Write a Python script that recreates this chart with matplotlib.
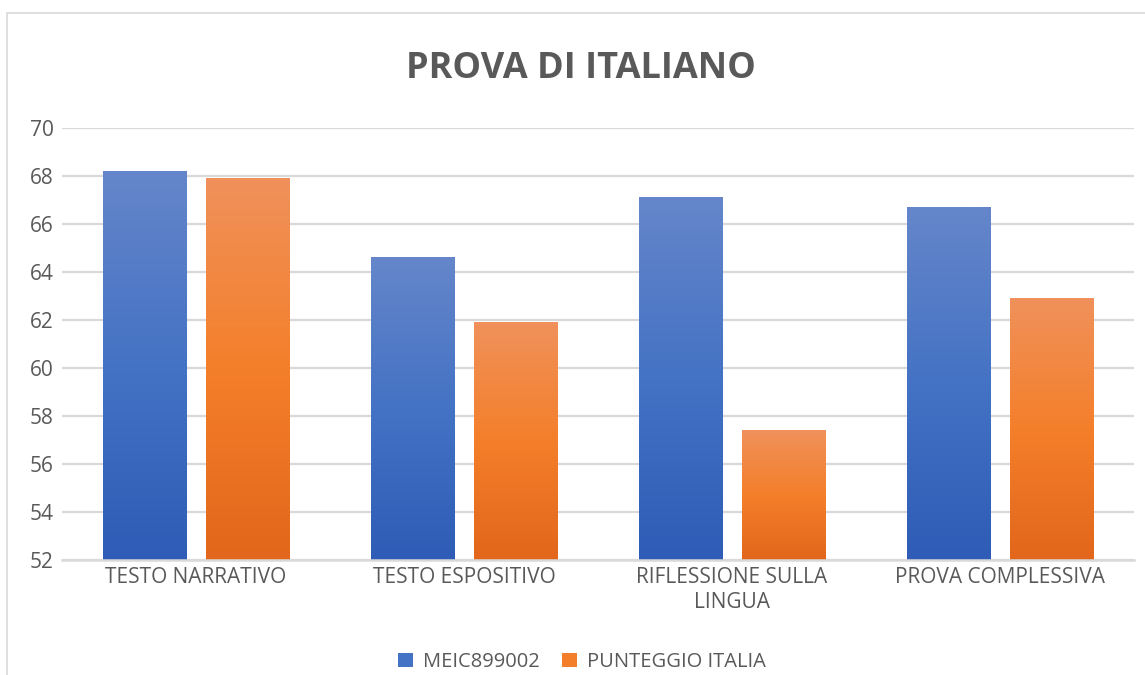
"""
Bar chart: PROVA DI ITALIANO (MEIC899002 vs national score).
Saves out.png.
"""

import numpy as np
import matplotlib
matplotlib.use("Agg")
import matplotlib.pyplot as plt
from matplotlib.colors import LinearSegmentedColormap
from matplotlib.patches import Patch, Rectangle

categories = ["TESTO NARRATIVO", "TESTO ESPOSITIVO", "RIFLESSIONE SULLA\nLINGUA", "PROVA COMPLESSIVA"]
school_values = [68.2, 64.6, 67.1, 66.7]
italy_values = [67.9, 61.9, 57.4, 62.9]
series_names = ["MEIC899002", "PUNTEGGIO ITALIA"]
y_ticks = [52, 54, 56, 58, 60, 62, 64, 66, 68, 70]

TEXT = "#595959"
GRID = "#d9d9d9"
# top -> middle -> bottom of each bar
BLUE_STOPS = ["#6586ca", "#4472c4", "#2e5cb6"]
ORANGE_STOPS = ["#f0915b", "#f47f2a", "#e2661b"]

plt.rcParams["font.family"] = ["Open Sans", "DejaVu Sans"]

W, H = 1145, 675
fig = plt.figure(figsize=(W / 100, H / 100), dpi=100)

# light frame of the chart area (cut off on the right and bottom)
fig.patches.append(Rectangle((7 / W, -0.02), 1.05, 1 - 13 / H + 0.02,
                             transform=fig.transFigure, fill=False,
                             edgecolor=GRID, linewidth=1.2))

ax = fig.add_axes([62 / W, 1 - 560 / H, (1134 - 62) / W, (560 - 128) / H])

x = np.arange(len(categories))
bar_w = 0.31
offset = (bar_w + 0.075) / 2
ymin, ymax = y_ticks[0], y_ticks[-1]


def gradient_bars(xpos, values, stops):
    cmap = LinearSegmentedColormap.from_list("g", stops[::-1])
    grad = np.linspace(0, 1, 256).reshape(-1, 1)
    for xc, v in zip(xpos, values):
        ax.imshow(grad, cmap=cmap, origin="lower", aspect="auto",
                  extent=[xc - bar_w / 2, xc + bar_w / 2, ymin, v],
                  zorder=3, interpolation="bilinear")


gradient_bars(x - offset, school_values, BLUE_STOPS)
gradient_bars(x + offset, italy_values, ORANGE_STOPS)

ax.set_xlim(-0.5, len(categories) - 0.5)
ax.set_ylim(ymin, ymax)
ax.set_yticks(y_ticks)
ax.yaxis.grid(True, color=GRID, linewidth=1.6, zorder=0)
ax.set_axisbelow(True)
for s in ["top", "right", "left"]:
    ax.spines[s].set_visible(False)
ax.spines["bottom"].set_color(GRID)
ax.spines["bottom"].set_linewidth(1.8)
ax.spines["bottom"].set_zorder(4)

ax.set_xticks(x)
ax.set_xticklabels(categories, fontsize=15, color=TEXT, linespacing=1.25)
ax.tick_params(axis="x", length=0, pad=5)
ax.tick_params(axis="y", length=0, pad=6, labelsize=15, labelcolor=TEXT)

fig.text(581 / W, 1 - 69 / H, "PROVA DI ITALIANO", ha="center", va="center",
         fontsize=26, fontweight="bold", color=TEXT)

handles = [Patch(facecolor=BLUE_STOPS[1]), Patch(facecolor=ORANGE_STOPS[1])]
fig.legend(handles, series_names, loc="center", bbox_to_anchor=(582 / W, 1 - 662 / H),
           ncol=2, frameon=False, fontsize=14.5, labelcolor=TEXT,
           handlelength=0.75, handleheight=0.75, handletextpad=0.5, columnspacing=1.1)

fig.savefig("out.png", dpi=100)
